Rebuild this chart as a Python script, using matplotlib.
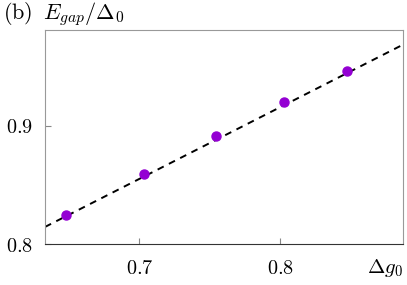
import numpy as np
import matplotlib
matplotlib.use('Agg')
import matplotlib.pyplot as plt

plt.rcParams['mathtext.fontset'] = 'cm'
plt.rcParams['font.family'] = 'DejaVu Serif'

# data points
delta_g0 = [0.648, 0.7033, 0.7545, 0.8028, 0.8476]
e_gap = [0.8246, 0.8593, 0.8915, 0.9203, 0.9466]

# linear fit
fit_slope = 0.607
fit_intercept = 0.4302

xticks = [0.7, 0.8]
yticks = [0.8, 0.9]

fig = plt.figure(figsize=(4.07, 2.85), dpi=100)
ax = fig.add_axes([45 / 407, 1 - 244 / 285, 358 / 407, 214 / 285])

xlim = (0.633, 0.887)
xs = np.array(xlim)
ax.plot(xs, fit_intercept + fit_slope * xs, '--', color='black', lw=1.4, dashes=(3.5, 3))
ax.plot(delta_g0, e_gap, 'o', color='#9400D3', ms=6.5, zorder=3)

ax.set_xlim(xlim)
ax.set_ylim(0.8, 0.981)
ax.set_xticks(xticks)
ax.set_xticklabels(['$%.1f$' % t for t in xticks], fontsize=14.5)
ax.set_yticks(yticks)
ax.set_yticklabels(['$%.1f$' % t for t in yticks], fontsize=14.5)
ax.tick_params(direction='in', length=4, color='#888888', pad=9)
ax.tick_params(axis='x', pad=11)

for s in ['left', 'top', 'right']:
    ax.spines[s].set_color('#999999')
ax.spines['bottom'].set_color('#333333')

fig.text(3 / 407, 1 - 14 / 285, r'$\mathrm{(b)}\;\;E_{gap}/\Delta_0$', fontsize=16, va='center', ha='left')
fig.text(385 / 407, 1 - 268 / 285, r'$\Delta g_0$', fontsize=15, va='center', ha='center')

fig.savefig('out.png', dpi=100)
